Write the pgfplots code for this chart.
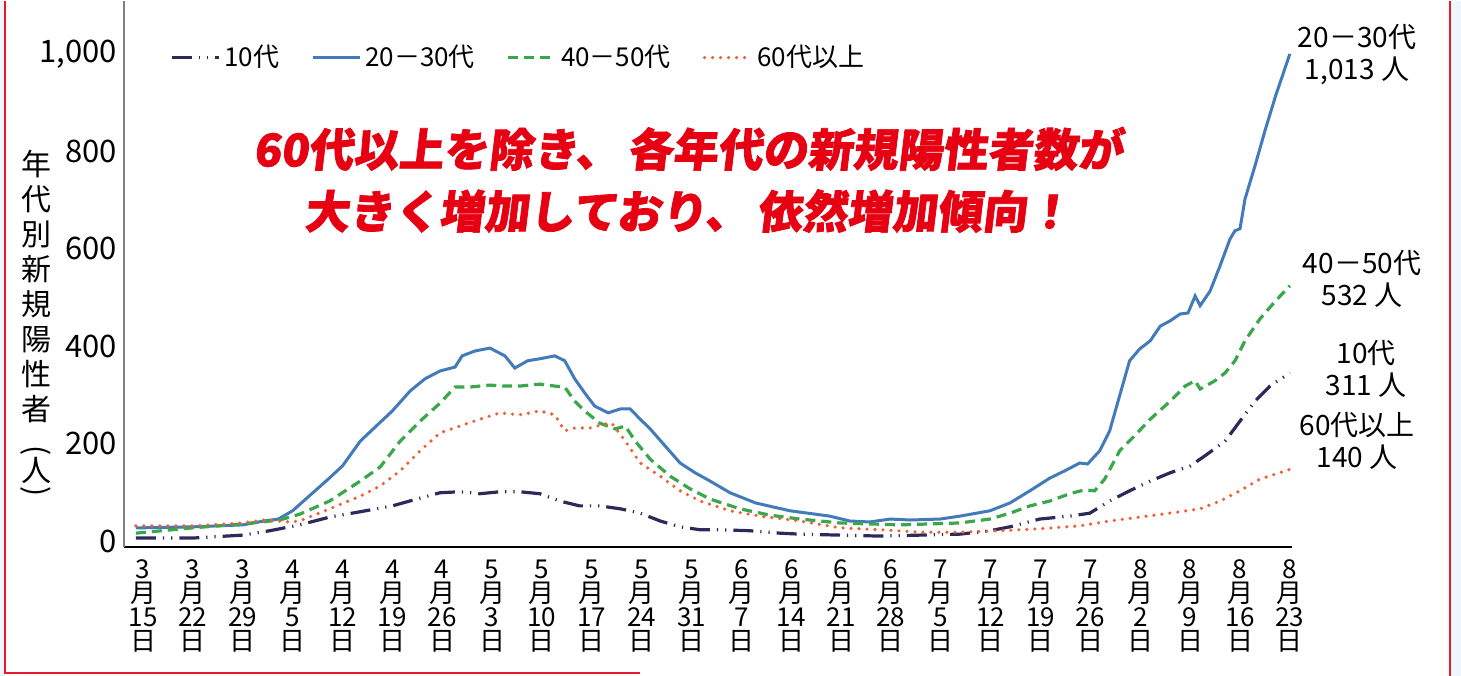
\documentclass[border=0pt]{standalone}
\usepackage{fontspec}
\setmainfont{Noto Sans CJK JP}
\newfontfamily\titlefont{Noto Sans CJK JP}[FakeSlant=0.12, FakeBold=1.6]
\usepackage{pgfplots}
\pgfplotsset{compat=1.18}
\definecolor{cnavy}{RGB}{44,42,90}
\definecolor{cblue}{RGB}{67,122,186}
\definecolor{cgreen}{RGB}{58,168,74}
\definecolor{corange}{RGB}{240,96,56}
\definecolor{ctitle}{RGB}{230,0,18}
\definecolor{cframe}{RGB}{232,24,44}
\definecolor{cbg}{RGB}{238,245,251}
\begin{document}
\begin{tikzpicture}
\begin{scope}[x=0.5pt,y=0.5pt]
\useasboundingbox (0,0) rectangle (1461,675);
\fill[cbg] (0,0) rectangle (1461,675);
\fill[white] (5,0) rectangle (1450,675);
\draw[cframe, line width=1pt] (5,675) -- (5,3) -- (640,3);
\draw[cframe, line width=1pt] (1450,0) -- (1450,675);
\end{scope}
\begin{axis}[
  at={(62pt,64.5pt)}, anchor=south west,
  scale only axis, width=584pt, height=273pt,
  xmin=-2.67, xmax=161.3, ymin=-12, ymax=1109,
  axis x line=bottom, axis y line=left,
  x axis line style={black, line width=0.8pt, -},
  y axis line style={gray, line width=0.8pt, -},
  major tick length=0pt,
  xtick={0,7,...,161},
  xticklabels={{3\\月\\15\\日},{3\\月\\22\\日},{3\\月\\29\\日},{4\\月\\5\\日},{4\\月\\12\\日},{4\\月\\19\\日},{4\\月\\26\\日},{5\\月\\3\\日},{5\\月\\10\\日},{5\\月\\17\\日},{5\\月\\24\\日},{5\\月\\31\\日},{6\\月\\7\\日},{6\\月\\14\\日},{6\\月\\21\\日},{6\\月\\28\\日},{7\\月\\5\\日},{7\\月\\12\\日},{7\\月\\19\\日},{7\\月\\26\\日},{8\\月\\2\\日},{8\\月\\9\\日},{8\\月\\16\\日},{8\\月\\23\\日}},
  xticklabel style={align=center, font=\fontsize{13}{12}\selectfont, yshift=-3pt},
  ytick={0,200,400,600,800,1000},
  yticklabel style={font=\fontsize{15.5}{18}\selectfont},
  /pgf/number format/assume math mode=true,
  /pgf/number format/1000 sep={,},
  clip=false,
  legend columns=4,
  legend cell align=left,
  legend style={draw=none, fill=none, at={(0.034,0.896)}, anchor=west,
    font=\fontsize{13}{15}\selectfont,
    /tikz/every even column/.append style={column sep=14pt}},
  legend image code/.code={\draw[#1] (0pt,0pt) -- (23.5pt,0pt);},
]
\addplot[cnavy, line width=1.6pt, dash pattern=on 10pt off 3.5pt on 0.6pt off 3.5pt on 0.6pt off 3.5pt] coordinates {
(-1,6) (7,6) (14,12) (17.8,21) (22,33) (26.2,49) (30.5,60) (35,72) (38.9,88) (41.7,99) (44.5,101) (47.3,97) (50.1,101) (52.9,101) (55.7,97) (58.5,82) (61.3,72) (64.1,72) (67,66) (69.8,57) (72.6,41) (75.4,29) (78.2,23) (81,23) (85.2,21) (89.4,16) (92.2,14) (97.8,12) (103.5,10) (109.1,12) (114.7,14) (118.9,21) (121.7,29) (125.9,45) (130.1,51) (132.9,57) (135.7,82) (138.5,103) (141.4,123) (144.2,140) (147,154) (149.1,175) (151.9,205) (154,246) (156.1,287) (158.2,318) (161,345)
};
\addlegendentry{10代}
\addplot[cblue, line width=1.5pt] coordinates {
(-1,27) (0,27) (7,29) (14,33) (17,41) (19,45) (21,62) (23,88) (26,127) (28,154) (30.5,205) (32.6,234) (35,267) (37.5,308) (39.6,333) (41.7,349) (43.8,357) (44.8,380) (46.6,390) (48.7,396) (50.8,380) (52.2,355) (54,370) (55.7,374) (57.8,380) (59.2,370) (60.6,333) (62,304) (63.4,277) (65.3,263) (67,271) (68.4,271) (69.8,250) (71.2,230) (73.3,195) (75.4,160) (77.5,140) (79.6,123) (82.4,99) (86,78) (90.8,62) (96.4,51) (99.2,41) (102,39) (104.9,45) (107.7,43) (111.9,45) (114.7,51) (118.9,62) (121.7,78) (124.5,103) (127.3,129) (129.4,144) (131.5,160) (132.6,158) (134.3,185) (135.7,226) (137.1,298) (138.5,370) (139.9,394) (141.4,411) (142.8,441) (144.2,452) (145.6,466) (146.7,468) (147.7,503) (148.4,483) (149.8,513) (151.2,565) (152.6,620) (153.3,637) (154,641) (154.7,702) (156.1,770) (157.5,842) (159,914) (161,1000)
};
\addlegendentry{20－30代}
\addplot[cgreen, line width=1.6pt, dash pattern=on 5pt off 3pt] coordinates {
(-1,16) (7,27) (14,35) (19.2,43) (22,55) (26.2,82) (30.5,123) (33.3,152) (36.1,205) (38.9,246) (41.7,283) (43.8,316) (45.9,316) (48.7,320) (50.8,318) (52.9,318) (55.7,322) (57.8,318) (59.2,316) (60.6,287) (62,267) (64.1,242) (66.3,230) (67.7,236) (69.1,205) (71.2,168) (74,133) (76.8,107) (79.6,86) (83.8,66) (88,53) (92.2,45) (97.8,37) (102,35) (106.3,33) (110.5,35) (114.7,37) (118.9,45) (121.7,57) (124.5,72) (127.3,82) (130.1,97) (132.2,105) (133.6,103) (135,127) (137.1,185) (139.2,216) (141.4,250) (144.2,287) (146.3,318) (147.7,329) (148.4,312) (150.5,329) (151.9,345) (153.3,370) (154.7,411) (156.8,456) (159,493) (161,524)
};
\addlegendentry{40－50代}
\addplot[corange, line width=1.8pt, line cap=round, dash pattern=on 0pt off 4pt] coordinates {
(-1,31) (7,31) (14,37) (17,43) (20.6,39) (22,41) (26.2,66) (30.5,92) (33.3,113) (36.1,144) (38.9,185) (41.7,222) (44.5,236) (47.3,250) (50.1,263) (52.9,259) (55.7,267) (57.8,259) (59.2,226) (60.6,232) (62.7,232) (64.9,240) (65.8,242) (67.7,205) (69.8,160) (72.6,133) (75.4,103) (78.2,82) (82.4,62) (86.6,51) (92.2,41) (97.8,27) (103.5,23) (109.1,18) (114.7,18) (120.3,21) (125.9,25) (131.5,31) (135.7,41) (139.9,49) (145.6,60) (148.4,66) (151.2,82) (154,103) (156.8,127) (161,147)
};
\addlegendentry{60代以上}
\end{axis}
\begin{scope}[x=0.5pt,y=0.5pt]
\node[align=center, font=\titlefont\bfseries\fontsize{22.5}{31}\selectfont, text=ctitle] at (688,496) {60代以上を除き、\,各年代の新規陽性者数が\\大きく増加しており、\,依然増加傾向！};
\node[align=center, inner sep=0pt, font=\fontsize{15}{17.5}\selectfont] at (36,389) {年\\代\\別\\新\\規\\陽\\性\\者};
\node[inner sep=0pt, font=\fontsize{15}{17.5}\selectfont] at (36,225) {\rotatebox{-90}{(}};
\node[inner sep=0pt, font=\fontsize{15}{17.5}\selectfont] at (36,205) {人};
\node[inner sep=0pt, font=\fontsize{15}{17.5}\selectfont] at (36,184) {\rotatebox{-90}{)}};
\node[align=center, font=\fontsize{14}{16}\selectfont] at (1357,621) {20－30代\\1,013 人};
\node[align=center, font=\fontsize{14}{16}\selectfont] at (1362,397) {40－50代\\532 人};
\node[align=center, font=\fontsize{14}{16}\selectfont] at (1366,307) {10代\\311 人};
\node[align=center, font=\fontsize{14}{16}\selectfont] at (1357,235) {60代以上\\140 人};
\end{scope}
\end{tikzpicture}
\end{document}
